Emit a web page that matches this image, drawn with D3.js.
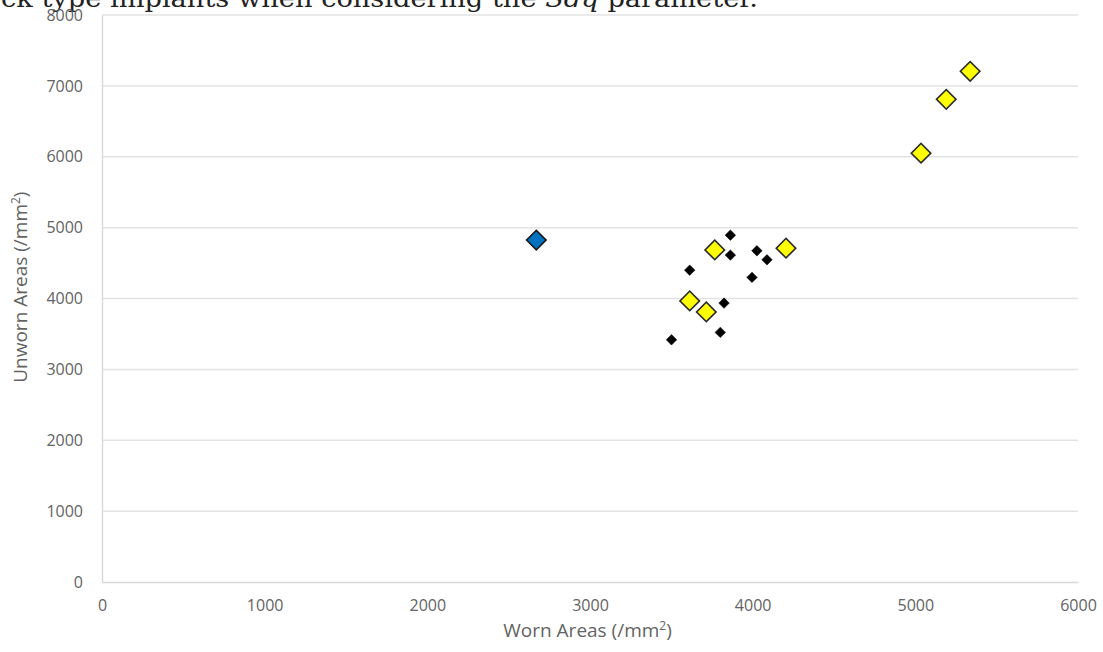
<!DOCTYPE html>
<html>
<head>
<meta charset="utf-8">
<script src="https://cdn.jsdelivr.net/npm/d3@7"></script>
<style>
  body { margin: 0; background: #fff; }
  svg { display: block; }
  .tick text { fill: #636363; font-family: "Open Sans", sans-serif; font-size: 16px; }
  .axisLabel { fill: #636363; font-family: "Open Sans", sans-serif; font-size: 19px; }
  .caption { fill: #222; font-family: "DejaVu Serif", serif; font-size: 25px; }
</style>
</head>
<body>
<div id="plotSect"></div>
<script>
// values
let xTicks = [0, 1000, 2000, 3000, 4000, 5000, 6000];
let yTicks = [0, 1000, 2000, 3000, 4000, 5000, 6000, 7000, 8000];

let blueWorn = [2670];
let blueUnworn = [4825];

let yellowWorn = [5337, 5190, 5035, 3767, 4205, 3613, 3715];
let yellowUnworn = [7205, 6810, 6050, 4685, 4710, 3965, 3810];

let blackWorn = [3863, 3863, 4026, 4088, 3613, 3996, 3824, 3801, 3501];
let blackUnworn = [4894, 4612, 4673, 4546, 4400, 4298, 3935, 3522, 3417];

let SVGwidth = 1103,
    SVGheight = 652,
    margin = {top: 15, right: 25, bottom: 70, left: 102},
    width = SVGwidth - margin.left - margin.right,
    height = SVGheight - margin.top - margin.bottom;

let svg = d3.select("#plotSect").append("svg")
    .attr("width", SVGwidth)
    .attr("height", SVGheight);

// cropped caption line from the page above the figure
let cap = svg.append("text")
    .attr("class", "caption")
    .attr("x", 1)
    .attr("y", 7)
    .attr("textLength", 757)
    .attr("lengthAdjust", "spacingAndGlyphs");
cap.append("tspan").text("ck type implants when considering the ");
cap.append("tspan").style("font-style", "italic").text("Sdq");
cap.append("tspan").text(" parameter.");

let g = svg.append("g")
    .attr("transform", "translate(" + margin.left + "," + margin.top + ")");

let xScale = d3.scaleLinear().domain([0, 6000]).range([0, width]);
let yScale = d3.scaleLinear().domain([0, 8000]).range([height, 0]);

// gridlines
g.append("g")
    .attr("class", "grid")
    .selectAll("line")
    .data(yTicks.slice(1))
    .enter().append("line")
    .attr("x1", 0)
    .attr("x2", width)
    .attr("y1", function(d) { return yScale(d); })
    .attr("y2", function(d) { return yScale(d); })
    .style("stroke", "#e3e3e3")
    .style("stroke-width", 1.5);

let xAxis = d3.axisBottom(xScale).tickValues(xTicks).tickSize(0).tickPadding(18).tickFormat(d3.format("d"));
let yAxis = d3.axisLeft(yScale).tickValues(yTicks).tickSize(0).tickPadding(19).tickFormat(d3.format("d"));

let xg = g.append("g")
    .attr("class", "xAxis")
    .attr("transform", "translate(0," + height + ")")
    .call(xAxis);
xg.select(".domain").style("stroke", "#d9d9d9").style("stroke-width", 1.5);

let yg = g.append("g")
    .attr("class", "yAxis")
    .call(yAxis);
yg.select(".domain").style("stroke", "#d9d9d9").style("stroke-width", 1.5);

g.append("text")
    .attr("class", "axisLabel")
    .attr("transform", "translate(" + xScale(2985) + "," + (height + 55) + ")")
    .style("text-anchor", "middle")
    .html("Worn Areas (/mm<tspan dy='-7' font-size='12'>2</tspan><tspan dy='7'>)</tspan>");

g.append("text")
    .attr("class", "axisLabel")
    .attr("transform", "rotate(-90)")
    .attr("x", 0 - yScale(4160))
    .attr("y", -75)
    .style("text-anchor", "middle")
    .html("Unworn Areas (/mm<tspan dy='-7' font-size='12'>2</tspan><tspan dy='7'>)</tspan>");

function diamond(size) {
    return d3.symbol().type(d3.symbolSquare).size(size)();
}

function addSeries(xs, ys, size, fill, stroke, sw) {
    g.append("g")
        .selectAll("path")
        .data(xs.map(function(x, i) { return [x, ys[i]]; }))
        .enter().append("path")
        .attr("d", diamond(size))
        .attr("transform", function(d) {
            return "translate(" + xScale(d[0]) + "," + yScale(d[1]) + ") rotate(45)";
        })
        .style("fill", fill)
        .style("stroke", stroke)
        .style("stroke-width", sw);
}

addSeries(blueWorn, blueUnworn, 190, "#0070c0", "#1a1a1a", 1.6);
addSeries(yellowWorn, yellowUnworn, 190, "#ffff00", "#2a2a2a", 1.6);
addSeries(blackWorn, blackUnworn, 55, "#000", "#000", 0.5);
</script>
</body>
</html>
